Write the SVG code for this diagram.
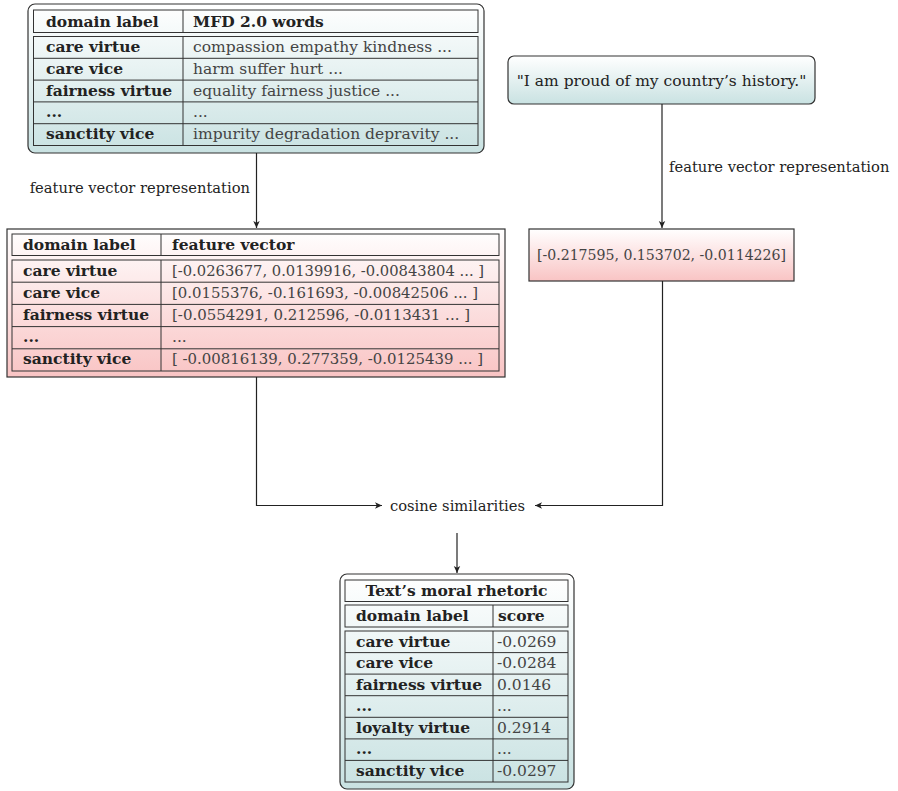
<svg xmlns="http://www.w3.org/2000/svg" width="898" height="791" viewBox="0 0 898 791">
<defs>
<linearGradient id="teal" x1="0" y1="0" x2="0" y2="1">
<stop offset="0" stop-color="#ffffff"/>
<stop offset="1" stop-color="#c9e2e2"/>
</linearGradient>
<linearGradient id="pink" x1="0" y1="0" x2="0" y2="1">
<stop offset="0" stop-color="#ffffff"/>
<stop offset="1" stop-color="#f9c4c4"/>
</linearGradient>
<marker id="arr" viewBox="0 0 8 8" refX="7" refY="4" markerWidth="8" markerHeight="8" markerUnits="userSpaceOnUse" orient="auto">
<path d="M0,0.8 L7,4 L0,7.2 L1.8,4 z" fill="#222"/>
</marker>
<style>
.t{font-family:"DejaVu Serif","Liberation Serif",serif;font-size:15.5px;fill:#222}
.l{font-size:14.7px}
.b{font-weight:bold}
.g{fill:#444}
.cell{fill:none;stroke:#333;stroke-width:1}
.out{stroke:#333;stroke-width:1.2}
.con{fill:none;stroke:#222;stroke-width:1.2}
</style>
</defs>

<g id="mfd-table">
<rect class="out" x="28" y="4" width="456" height="149" rx="7" fill="url(#teal)"/>
<rect class="cell" x="33.5" y="10" width="444.5" height="22.5"/>
<rect class="cell" x="33.5" y="36.5" width="444.5" height="109"/>
<path class="cell" d="M183,10V32.5M183,36.5V145.5M33.5,58.3H478M33.5,80.1H478M33.5,101.9H478M33.5,123.7H478"/>
<text class="t b" x="46" y="26.5">domain label</text>
<text class="t b" x="193" y="26.5">MFD 2.0 words</text>
<text class="t b" x="46" y="52">care virtue</text>
<text class="t b" x="46" y="74">care vice</text>
<text class="t b" x="46" y="95.5">fairness virtue</text>
<text class="t b" x="46" y="117">...</text>
<text class="t b" x="46" y="139">sanctity vice</text>
<text class="t g" x="193" y="52">compassion empathy kindness ...</text>
<text class="t g" x="193" y="74">harm suffer hurt ...</text>
<text class="t g" x="193" y="95.5">equality fairness justice ...</text>
<text class="t g" x="193" y="117">...</text>
<text class="t g" x="193" y="139">impurity degradation depravity ...</text>
</g>

<g id="vector-table">
<rect class="out" x="7" y="229" width="498" height="148" fill="url(#pink)"/>
<rect class="cell" x="12" y="234" width="487" height="21.5"/>
<rect class="cell" x="12" y="260" width="487" height="111"/>
<path class="cell" d="M161,234V255.5M161,260V371M12,282.2H499M12,304.4H499M12,326.6H499M12,348.8H499"/>
<text class="t b" x="23" y="250">domain label</text>
<text class="t b" x="172" y="250">feature vector</text>
<text class="t b" x="23" y="275.5">care virtue</text>
<text class="t b" x="23" y="297.5">care vice</text>
<text class="t b" x="23" y="319.5">fairness virtue</text>
<text class="t b" x="23" y="341.5">...</text>
<text class="t b" x="23" y="364">sanctity vice</text>
<text class="t g" x="172" y="275.5" textLength="312" lengthAdjust="spacingAndGlyphs">[-0.0263677, 0.0139916, -0.00843804 ... ]</text>
<text class="t g" x="172" y="297.5" textLength="306" lengthAdjust="spacingAndGlyphs">[0.0155376, -0.161693, -0.00842506 ... ]</text>
<text class="t g" x="172" y="319.5" textLength="298" lengthAdjust="spacingAndGlyphs">[-0.0554291, 0.212596, -0.0113431 ... ]</text>
<text class="t g" x="172" y="341.5">...</text>
<text class="t g" x="172" y="364" textLength="311" lengthAdjust="spacingAndGlyphs">[ -0.00816139, 0.277359, -0.0125439 ... ]</text>
</g>

<g id="sentence">
<rect class="out" x="508" y="56" width="307" height="48" rx="6" fill="url(#teal)"/>
<text class="t" x="661.5" y="85.5" text-anchor="middle">"I am proud of my country’s history."</text>
</g>

<g id="sentence-vector">
<rect class="out" x="529" y="229" width="265" height="52" fill="url(#pink)"/>
<text class="t g" x="661.5" y="260" text-anchor="middle" textLength="249" lengthAdjust="spacingAndGlyphs">[-0.217595, 0.153702, -0.0114226]</text>
</g>

<g id="cosine">
<text class="t l" x="390" y="511">cosine similarities</text>
</g>

<g id="rhetoric-table">
<rect class="out" x="340" y="574" width="234" height="215" rx="7" fill="url(#teal)"/>
<rect class="cell" x="345" y="580" width="223" height="21.5"/>
<rect class="cell" x="345" y="605" width="223" height="22"/>
<rect class="cell" x="345" y="631" width="223" height="151"/>
<path class="cell" d="M493,605V627M493,631V782M345,652.6H568M345,674.1H568M345,695.7H568M345,717.3H568M345,738.9H568M345,760.4H568"/>
<text class="t b" x="456.5" y="596" text-anchor="middle">Text’s moral rhetoric</text>
<text class="t b" x="356" y="621">domain label</text>
<text class="t b" x="498" y="621">score</text>
<text class="t b" x="356" y="646.5">care virtue</text>
<text class="t b" x="356" y="668">care vice</text>
<text class="t b" x="356" y="689.5">fairness virtue</text>
<text class="t b" x="356" y="711">...</text>
<text class="t b" x="356" y="732.5">loyalty virtue</text>
<text class="t b" x="356" y="754">...</text>
<text class="t b" x="356" y="776">sanctity vice</text>
<text class="t g" x="497" y="646.5">-0.0269</text>
<text class="t g" x="497" y="668">-0.0284</text>
<text class="t g" x="497" y="689.5">0.0146</text>
<text class="t g" x="497" y="711">...</text>
<text class="t g" x="497" y="732.5">0.2914</text>
<text class="t g" x="497" y="754">...</text>
<text class="t g" x="497" y="776">-0.0297</text>
</g>

<g id="connectors">
<path class="con" d="M256.5,153V228" marker-end="url(#arr)"/>
<text class="t l" x="250" y="193" text-anchor="end">feature vector representation</text>
<path class="con" d="M662,104V228" marker-end="url(#arr)"/>
<text class="t l" x="669" y="171.5">feature vector representation</text>
<path class="con" d="M256.5,377V505.5H382" marker-end="url(#arr)"/>
<path class="con" d="M662.5,281V505.5H535" marker-end="url(#arr)"/>
<path class="con" d="M457,533V573" marker-end="url(#arr)"/>
</g>
</svg>
